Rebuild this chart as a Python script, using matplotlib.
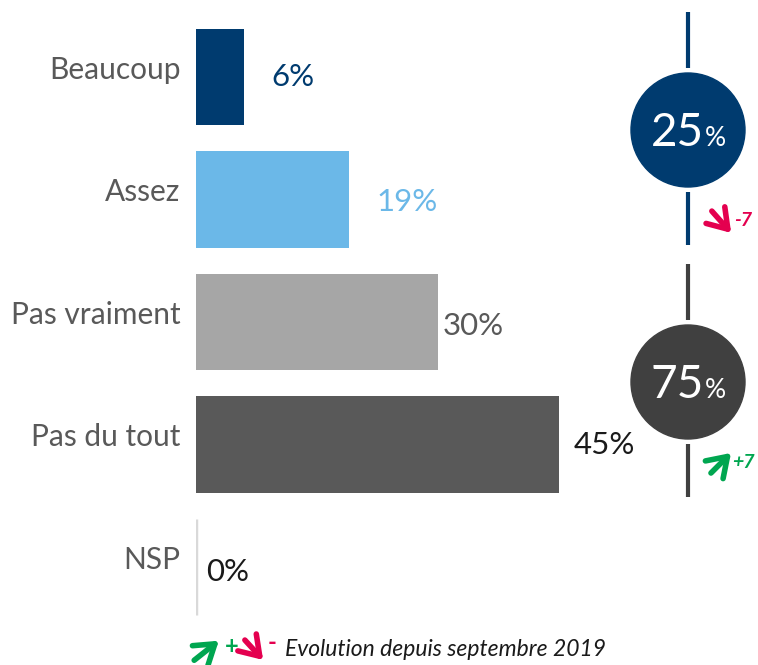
import matplotlib
matplotlib.use("Agg")
import matplotlib.pyplot as plt
from matplotlib.patches import Circle

categories = ["Beaucoup", "Assez", "Pas vraiment", "Pas du tout", "NSP"]
values = [6, 19, 30, 45, 0]
bar_colors = ["#003B6F", "#6BB8E8", "#A6A6A6", "#595959", "#D9D9D9"]
label_colors = ["#003B6F", "#6BB8E8", "#595959", "#1A1A1A", "#1A1A1A"]
# label offsets (in % units, rows) as in the reference
label_dx = [3.4, 3.4, 0.6, 1.8, 1.3]
label_dy = [0.0, 0.02, 0.03, 0.0, 0.04]

totals = ["25", "75"]
total_colors = ["#003B6F", "#404040"]
evolutions = ["-7", "+7"]

W, H = 758, 665
fig = plt.figure(figsize=(W / 100, H / 100), dpi=100)
plt.rcParams["font.family"] = ["Lato", "DejaVu Sans"]

# bar axes in pixel placement
px_per = 8.07
left, right_pct = 196, 60
row = 122.5
top = 77 - row / 2
ax = fig.add_axes([left / W, 1 - (top + 5 * row) / H, right_pct * px_per / W, 5 * row / H])
ys = list(range(len(categories)))
ax.barh(ys, values, height=0.79, color=bar_colors)
ax.barh([4], [0], height=0.79, color="none", edgecolor=bar_colors[4], linewidth=2.5)
ax.set_xlim(0, right_pct)
ax.set_ylim(4.5, -0.5)
ax.axis("off")
for y, v, c, dx, dy, cat in zip(ys, values, label_colors, label_dx, label_dy, categories):
    ax.text(v + dx, y + dy, f"{v}%", color=c, fontsize=22.5, va="center", ha="left")
    ax.text(-1.9, y - 0.06, cat, color="#595959", fontsize=21.5, va="center", ha="right")

# overlay in pixel coords
ov = fig.add_axes([0, 0, 1, 1])
ov.set_xlim(0, W)
ov.set_ylim(H, 0)
ov.axis("off")
cx = 688
red, green = "#E4004F", "#00A650"
arrow = dict(arrowstyle="->,head_length=0.45,head_width=0.3", lw=4, mutation_scale=30)
for i, (t, col, ev) in enumerate(zip(totals, total_colors, evolutions)):
    cy = 130 + i * 252
    ov.plot([cx, cx], [cy - 118, cy - 62], color=col, lw=3, solid_capstyle="butt")
    ov.plot([cx, cx], [cy + 62, cy + 115], color=col, lw=3, solid_capstyle="butt")
    ov.add_patch(Circle((cx, cy), 57, color=col))
    ov.text(cx + 16, cy + 3, t, color="white", fontsize=33, ha="right", va="center")
    ov.text(cx + 17, cy + 8, "%", color="white", fontsize=19, ha="left", va="center")
    if ev.startswith("-"):
        ov.annotate("", xy=(733, 235), xytext=(710, 209),
                    arrowprops=dict(color=red, **arrow))
        ov.text(734, 220, ev, color=red, fontsize=14, fontweight="bold", style="italic",
                ha="left", va="center")
    else:
        ov.annotate("", xy=(733, 451), xytext=(709, 475),
                    arrowprops=dict(color=green, **arrow))
        ov.text(732, 462, ev, color=green, fontsize=14, fontweight="bold", style="italic",
                ha="left", va="center")

# legend
ov.annotate("", xy=(221, 639), xytext=(192, 662), arrowprops=dict(color=green, **arrow))
ov.text(225, 646, "+", color=green, fontsize=17, fontweight="bold", ha="left", va="center")
ov.annotate("", xy=(265, 662), xytext=(243, 638), arrowprops=dict(color=red, **arrow))
ov.text(268, 643, "-", color=red, fontsize=17, fontweight="bold", ha="left", va="center")
ov.text(285, 650, "Evolution depuis septembre 2019", color="#1A1A1A", fontsize=16.5,
        style="italic", ha="left", va="center")

fig.savefig("out.png", dpi=100)
